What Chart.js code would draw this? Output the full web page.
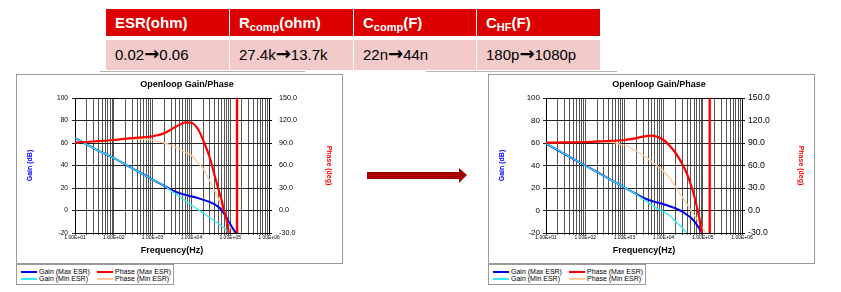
<!DOCTYPE html>
<html>
<head>
<meta charset="utf-8">
<script src="https://cdn.jsdelivr.net/npm/chart.js@4.4.1/dist/chart.umd.min.js"></script>
<style>
body { margin:0; width:841px; height:292px; overflow:hidden; background:#fff; position:relative; font-family:"Liberation Sans", Arial, sans-serif; }
.cell { position:absolute; box-sizing:border-box; padding-left:9px; font-size:15px; white-space:nowrap; }
.hd { top:9px; height:27px; line-height:27px; background:#dc0000; color:#fff; font-weight:bold; }
.bd { top:40px; height:30px; line-height:30px; background:#f2caca; color:#000; }
.sb { font-size:11px; position:relative; top:3px; }
.ar { font-family:"DejaVu Sans", sans-serif; font-weight:bold; font-size:18px; line-height:20px; }
.rule { position:absolute; top:71px; height:1px; background:#b4b4b4; }
.box { position:absolute; top:74px; width:325px; height:188px; border:1px solid #9a9a9a; }
.box canvas { display:block; }
.legend { position:absolute; top:264px; width:156px; height:19px; border:1px solid #9a9a9a; font-size:7px; color:#000; }
.legend .item { position:absolute; height:7px; line-height:7px; white-space:nowrap; }
.legend .swatch { position:absolute; left:0; top:3px; width:16px; height:2px; }
.legend .txt { position:absolute; left:18px; top:0; }
</style>
</head>
<body>

<div class="cell hd" style="left:106px;width:123px">ESR(ohm)</div>
<div class="cell hd" style="left:230px;width:123px">R<span class="sb">comp</span>(ohm)</div>
<div class="cell hd" style="left:354px;width:122px">C<span class="sb">comp</span>(F)</div>
<div class="cell hd" style="left:477px;width:123px">C<span class="sb">HF</span>(F)</div>
<div class="cell bd" style="left:106px;width:123px">0.02<span class="ar">→</span>0.06</div>
<div class="cell bd" style="left:230px;width:123px">27.4k<span class="ar">→</span>13.7k</div>
<div class="cell bd" style="left:354px;width:122px">22n<span class="ar">→</span>44n</div>
<div class="cell bd" style="left:477px;width:123px">180p<span class="ar">→</span>1080p</div>
<div class="rule" style="left:100px;width:205px"></div>
<div class="rule" style="left:426px;width:191px"></div>

<div class="box" style="left:16px"><canvas id="before" width="325" height="188"></canvas></div>
<div class="legend" id="legBefore" style="left:16px"></div>

<div class="box" style="left:488px"><canvas id="after" width="325" height="188"></canvas></div>
<div class="legend" id="legAfter" style="left:488px"></div>

<svg style="position:absolute;left:360px;top:160px" width="115" height="30">
  <polygon points="7,12 99,12 99,8 107,15 99,23 99,19 7,19" fill="#a30000"/>
  <line x1="7" y1="15.5" x2="99" y2="15.5" stroke="#c40000" stroke-width="1"/>
</svg>

<script>
// frequency points (Hz) used by every curve
var freq = [10, 30, 100, 300, 1000, 2000, 3000, 5000, 7000, 1e4, 1.5e4, 2e4, 3e4, 4e4, 5e4, 6e4, 7e4, 8e4, 9e4, 1e5, 1.2e5, 1.5e5];

// left plot (before)
var gainMaxL  = [64.5, 55.5, 46.5, 37.5, 27.5, 22, 18.6, 15.3, 13.9, 12.6, 11, 9.5, 7.5, 5.5, 3, 0.5, -3, -6, -9.5, -12, -16.5, -21.5];
var gainMinL  = [64.5, 55.5, 46.5, 37.5, 27.5, 22, 17.5, 12.3, 8.5, 4.9, 0.7, -2.3, -6.5, -9.5, -11.7, -13.7, -15.6, -17.5, -19.3, -21, -24, -28];
var phaseMaxL = [90.5, 92, 94, 96.5, 99, 103, 108, 114.5, 117.5, 117, 108, 94, 70, 46, 28, 14, -1, -12, -27, -42, -70, -100];
var phaseMinL = [90.5, 92, 94, 96, 93.5, 90, 87, 82, 77.5, 73.5, 63, 56, 39, 26, 15, 6, -4, -10, -16, -22, -28, -40];
var wrapL = 1.5e5;

// right plot (after)
var gainMaxR  = [59.5, 50.2, 40, 30.7, 20.5, 14.8, 11.5, 8.5, 7, 5.5, 3.5, 2, -1, -4, -6.5, -9.5, -12.5, -15.5, -18.5, -21.5, -26, -32];
var gainMinR  = [59.5, 50.2, 40, 30.7, 20.5, 14.5, 10, 4.8, 1.7, -1, -5, -9.5, -15.5, -20.5, -25, -29, -32, -35, -37, -39, -42, -45];
var phaseMaxR = [90.5, 90.8, 91.3, 92.5, 94, 96.5, 98.5, 99.8, 98, 94, 85, 77, 62, 48, 34, 20, 6, -8, -22, -38, -60, -90];
var phaseMinR = [90.5, 90.8, 91.2, 91.5, 87, 79, 74, 65, 59, 52, 42, 32, 18, 8, 0, -6, -11, -16, -20, -24, -30, -40];
var wrapR = 1.5e5;

var seriesNames = ['Gain (Max ESR)', 'Gain (Min ESR)', 'Phase (Max ESR)', 'Phase (Min ESR)'];
var gainTicks = [-20, 0, 20, 40, 60, 80, 100];
var phaseTicks = [-30, 0, 30, 60, 90, 120, 150];
var decadeTicks = [1e1, 1e2, 1e3, 1e4, 1e5, 1e6];
var decadeLabels = ['1.00E+01', '1.00E+02', '1.00E+03', '1.00E+04', '1.00E+05', '1.00E+06'];

var styles = [
    { color: '#0000e6', width: 2,   axis: 'y',  order: 2 },
    { color: '#33eeee', width: 1.3, axis: 'y',  order: 1 },
    { color: '#ff0000', width: 2.2, axis: 'y1', order: 0 },
    { color: '#ffcc99', width: 1.3, axis: 'y1', order: 3 }
];

// vertical grid at 1..9 x every decade
var gridFreqs = [];
for (var d = 0; d < decadeTicks.length - 1; d++) {
    for (var m = 1; m < 10; m++) gridFreqs.push(m * decadeTicks[d]);
}
gridFreqs.push(decadeTicks[decadeTicks.length - 1]);

Chart.defaults.font.family = '"Liberation Sans", Arial, sans-serif';

var frame = {
    id: 'frame',
    beforeDatasetsDraw: function(chart) {
        var a = chart.chartArea, ctx = chart.ctx;
        ctx.save();
        ctx.strokeStyle = '#000';
        ctx.lineWidth = 1;
        ctx.strokeRect(Math.round(a.left) + 0.5, Math.round(a.top) + 0.5, Math.round(a.right - a.left), Math.round(a.bottom - a.top));
        ctx.restore();
    }
};

var plotTitle = {
    id: 'plotTitle',
    afterDraw: function(chart, args, opts) {
        var a = chart.chartArea, ctx = chart.ctx;
        ctx.save();
        ctx.font = 'bold 9px "Liberation Sans", Arial, sans-serif';
        ctx.fillStyle = '#000';
        ctx.textAlign = 'center';
        ctx.textBaseline = 'middle';
        ctx.fillText(opts.text, (a.left + a.right) / 2 + opts.shift, opts.y);
        ctx.restore();
    }
};

function points(vals) {
    return freq.map(function(f, i) { return { x: f, y: vals[i] }; });
}

function makeChart(id, series, wrap, fs) {
    var datasets = series.map(function(vals, i) {
        var s = styles[i];
        return {
            label: seriesNames[i], data: points(vals), borderColor: s.color, borderWidth: s.width,
            pointRadius: 0, cubicInterpolationMode: 'monotone', yAxisID: s.axis, order: s.order, clip: 0
        };
    });
    // phase wraps from -180 to +180: vertical jump of the max ESR phase
    datasets.push({
        label: seriesNames[2], data: [{ x: wrap, y: phaseTicks[0] }, { x: wrap, y: phaseTicks[phaseTicks.length - 1] }],
        borderColor: styles[2].color, borderWidth: 2.4, pointRadius: 0, yAxisID: 'y1', order: 0, clip: 0
    });

    return new Chart(document.getElementById(id), {
        type: 'line',
        data: { datasets: datasets },
        plugins: [frame, plotTitle],
        options: {
            responsive: false,
            animation: false,
            events: [],
            layout: { padding: { top: 23 } },
            plugins: {
                legend: { display: false },
                tooltip: { enabled: false },
                plotTitle: { text: 'Openloop Gain/Phase', shift: 15, y: 10 }
            },
            scales: {
                x: {
                    type: 'logarithmic', min: decadeTicks[0], max: decadeTicks[decadeTicks.length - 1],
                    afterBuildTicks: function(s) { s.ticks = gridFreqs.map(function(v) { return { value: v }; }); },
                    afterFit: function(s) { s.height = 30; },
                    ticks: {
                        autoSkip: false, maxRotation: 0, minRotation: 0, padding: 0, color: '#000', font: { size: 5 },
                        callback: function(v) { var k = decadeTicks.indexOf(v); return k < 0 ? '' : decadeLabels[k]; }
                    },
                    grid: { color: '#555', lineWidth: 1, tickLength: 2 },
                    border: { color: '#000' },
                    title: { display: true, text: 'Frequency(Hz)', color: '#000', font: { size: 9, weight: 'bold' }, padding: { top: 0, bottom: 7 } }
                },
                y: {
                    position: 'left', min: gainTicks[0], max: gainTicks[gainTicks.length - 1],
                    afterBuildTicks: function(s) { s.ticks = gainTicks.map(function(v) { return { value: v }; }); },
                    afterFit: function(s) { s.width = fs.yW; },
                    ticks: { color: '#000', font: { size: fs.gain }, padding: fs.padL },
                    grid: { color: '#222', lineWidth: 1, tickLength: 3 },
                    border: { color: '#000' },
                    title: { display: true, text: 'Gain (dB)', color: '#0000ff', font: { size: 7, weight: 'bold' }, padding: { top: 9 } }
                },
                y1: {
                    position: 'right', min: phaseTicks[0], max: phaseTicks[phaseTicks.length - 1],
                    afterBuildTicks: function(s) { s.ticks = phaseTicks.map(function(v) { return { value: v }; }); },
                    afterFit: function(s) { s.width = fs.y1W; },
                    ticks: { color: '#000', font: { size: fs.phase }, padding: fs.padR, callback: function(v) { return v.toFixed(1); } },
                    grid: { drawOnChartArea: false, color: '#000', tickLength: 3 },
                    border: { color: '#000' },
                    title: { display: true, text: 'Phase (deg)', color: '#ff0000', font: { size: 7, weight: 'bold' }, padding: { top: 9 } }
                }
            }
        }
    });
}

function buildLegend(elId) {
    var el = document.getElementById(elId);
    var slots = [0, 2, 1, 3]; // row-major: gain max, phase max, gain min, phase min
    slots.forEach(function(si, i) {
        var item = document.createElement('div');
        item.className = 'item';
        item.style.left = (i % 2 ? 80 : 4) + 'px';
        item.style.top = (i < 2 ? 3 : 10) + 'px';
        var sw = document.createElement('div');
        sw.className = 'swatch';
        sw.style.background = styles[si].color;
        var tx = document.createElement('span');
        tx.className = 'txt';
        tx.textContent = seriesNames[si];
        item.appendChild(sw);
        item.appendChild(tx);
        el.appendChild(item);
    });
}

makeChart('before', [gainMaxL, gainMinL, phaseMaxL, phaseMinL], wrapL, { yW: 58, y1W: 73, gain: 6.6, phase: 7.2, padL: 4, padR: 7 });
makeChart('after', [gainMaxR, gainMinR, phaseMaxR, phaseMinR], wrapR, { yW: 57, y1W: 72, gain: 8, phase: 8.7, padL: 3, padR: 3 });
buildLegend('legBefore');
buildLegend('legAfter');
</script>
</body>
</html>
